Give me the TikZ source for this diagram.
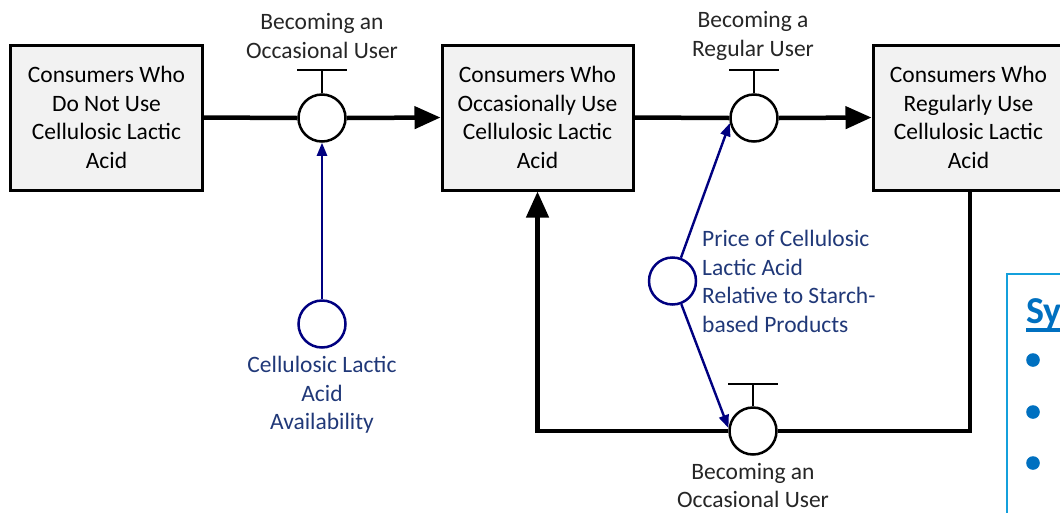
\documentclass[tikz,border=0pt]{standalone}
\usepackage{fontspec}
\setmainfont{Carlito}
\usetikzlibrary{arrows.meta}
\definecolor{navyc}{RGB}{0,0,128}
\definecolor{navytxt}{RGB}{32,56,120}
\definecolor{lbltxt}{RGB}{38,38,38}
\definecolor{boxfill}{RGB}{242,242,242}
\definecolor{legborder}{RGB}{20,160,220}
\definecolor{legblue}{RGB}{0,112,192}
\tikzset{
  stockbox/.style={draw=black, line width=3pt, fill=boxfill, minimum width=192pt, minimum height=145pt, align=center, inner sep=0pt, font=\fontsize{23.5}{28.5}\selectfont},
  valve/.style={circle, draw=black, line width=2.5pt, fill=white, minimum size=47pt, inner sep=0pt},
  auxc/.style={circle, draw=navyc, line width=2.5pt, fill=white, minimum size=47pt, inner sep=0pt},
  flow/.style={draw=black, line width=4.5pt},
  flowarrow/.style={flow, -{Triangle[length=26pt,width=22pt]}},
  infoarrow/.style={draw=navyc, line width=2.4pt, -{Triangle[length=13pt,width=10pt]}},
  lbl/.style={align=center, inner sep=0pt, text=lbltxt, font=\fontsize{23.5}{28.5}\selectfont},
  bluelbl/.style={inner sep=0pt, text=navytxt, font=\fontsize{23.5}{28.5}\selectfont},
  tbar/.style={draw=black, line width=2.5pt},
}
\begin{document}
\begin{tikzpicture}[x=1pt,y=-1pt]
\useasboundingbox (0,0) rectangle (1060,512);
\clip (0,0) rectangle (1060,512);
% stocks
\node[stockbox] (b1) at (106.5,117.5) {Consumers Who\\Do Not Use\\Cellulosic Lactic\\Acid};
\node[stockbox, minimum width=191pt] (b2) at (537.5,117.5) {Consumers Who\\Occasionally Use\\Cellulosic Lactic\\Acid};
\node[stockbox, minimum width=191pt] (b3) at (968.5,117.5) {Consumers Who\\Regularly Use\\Cellulosic Lactic\\Acid};
% valves
\node[valve] (v1) at (322,118) {};
\node[valve] (v2) at (754,118) {};
\node[valve] (v3) at (753,431) {};
% T-bars
\coordinate (t1) at (322,70);
\coordinate (t2) at (754,70);
\coordinate (t3) at (753,384);
\draw[tbar] (v1.north) -- (t1);
\draw[tbar] ([xshift=-25pt]t1) -- ([xshift=25pt]t1);
\draw[tbar] (v2.north) -- (t2);
\draw[tbar] ([xshift=-25pt]t2) -- ([xshift=25pt]t2);
\draw[tbar] (v3.north) -- (t3);
\draw[tbar] ([xshift=-25pt]t3) -- ([xshift=25pt]t3);
% flows
\draw[flow] (b1.east) -- (v1.west);
\draw[flowarrow] (v1.east) -- (b2.west);
\draw[flow] (b2.east) -- (v2.west);
\draw[flowarrow] (v2.east) -- (b3.west);
\draw[flow] ([xshift=1.5pt]b3.south) |- (v3.east);
\draw[flowarrow] (v3.west) -| (b2.south);
% auxiliaries
\node[auxc] (a1) at (322,324) {};
\node[auxc] (p) at (672.5,281) {};
\draw[infoarrow] (a1.north) -- (v1.south);
\draw[infoarrow] (p) -- (v2.192);
\draw[infoarrow] (p) -- (v3.173);
% labels
\node[lbl] (l1) at (322,36) {Becoming an\\Occasional User};
\node[lbl] (l2) at (753,36) {Becoming a\\Regular User};
\node[lbl] (l3) at (753,485.5) {Becoming an\\Occasional User};
\node[bluelbl, align=center] (la1) at (322,395) {Cellulosic Lactic\\Acid\\Availability};
\node[bluelbl, align=left, anchor=west] (lp) at (702,281.5) {Price of Cellulosic\\Lactic Acid\\Relative to Starch-\\based Products};
% legend (partially visible)
\draw[draw=legborder, line width=2pt] (1007,520) -- (1007,274) -- (1070,274);
\node[anchor=base west, inner sep=0pt, text=legblue, font=\fontsize{38}{44}\selectfont\bfseries] (leg) at (1026,323) {Sy};
\fill[legblue] (1026,328) rectangle (1062,332);
\fill[legblue] (1033,360) circle (6.8pt);
\fill[legblue] (1033,412) circle (6.8pt);
\fill[legblue] (1033,463) circle (6.8pt);
\end{tikzpicture}
\end{document}
